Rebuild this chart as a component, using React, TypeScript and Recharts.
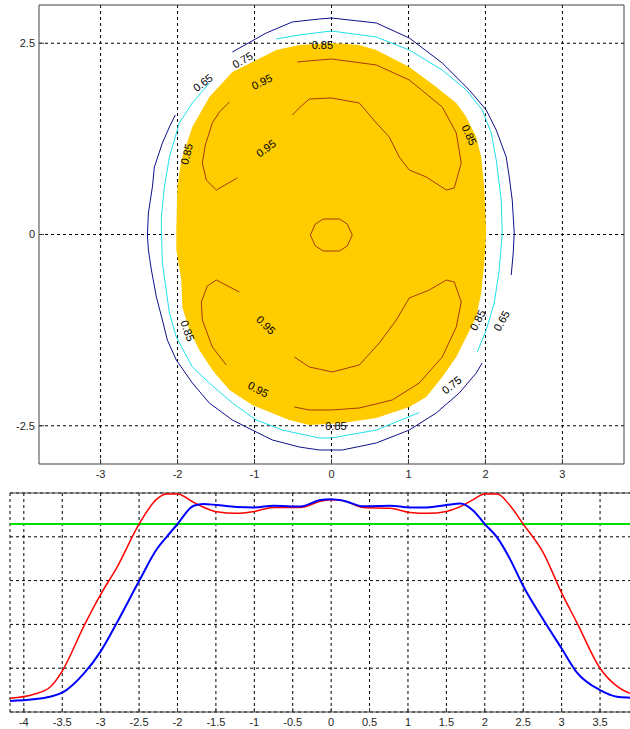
import {
  ScatterChart,
  Scatter,
  LineChart,
  Line,
  XAxis,
  YAxis,
  CartesianGrid,
  ReferenceLine,
} from 'recharts';

// ---- top panel: contour map ----
const topXTicks = [-3, -2, -1, 0, 1, 2, 3];
const topYTicks = [-2.5, 0, 2.5];
const topXDomain = [-3.8, 3.8];
const topYDomain = [-3, 3];

// region above 0.85 (filled)
const level085Region = [
  { x: -0.717, y: 2.412 }, { x: -0.418, y: 2.477 }, { x: 0.0, y: 2.503 }, { x: 0.361, y: 2.477 },
  { x: 0.582, y: 2.412 }, { x: 1.01, y: 2.19 }, { x: 1.361, y: 1.928 }, { x: 1.621, y: 1.719 },
  { x: 1.751, y: 1.536 }, { x: 1.881, y: 1.275 }, { x: 1.945, y: 1.013 }, { x: 1.984, y: 0.621 },
  { x: 2.01, y: 0.02 }, { x: 1.984, y: -0.373 }, { x: 1.945, y: -0.765 }, { x: 1.881, y: -1.078 },
  { x: 1.751, y: -1.34 }, { x: 1.621, y: -1.601 }, { x: 1.439, y: -1.863 }, { x: 1.231, y: -2.124 },
  { x: 1.01, y: -2.255 }, { x: 0.582, y: -2.399 }, { x: 0.14, y: -2.464 }, { x: -0.288, y: -2.49 },
  { x: -0.548, y: -2.425 }, { x: -1.029, y: -2.229 }, { x: -1.327, y: -2.033 }, { x: -1.548, y: -1.771 },
  { x: -1.717, y: -1.51 }, { x: -1.847, y: -1.248 }, { x: -1.938, y: -0.948 }, { x: -1.951, y: -0.595 },
  { x: -2.016, y: -0.203 }, { x: -2.016, y: 0.059 }, { x: -2.003, y: 0.621 }, { x: -1.951, y: 0.974 },
  { x: -1.808, y: 1.405 }, { x: -1.587, y: 1.797 }, { x: -1.288, y: 2.124 },
];

const level065A = [
  { x: -1.288, y: 2.386 }, { x: -0.847, y: 2.634 }, { x: -0.509, y: 2.778 }, { x: -0.158, y: 2.817 },
  { x: 0.0, y: 2.83 }, { x: 0.582, y: 2.765 }, { x: 1.01, y: 2.569 }, { x: 1.439, y: 2.242 },
  { x: 1.79, y: 1.889 }, { x: 2.01, y: 1.627 }, { x: 2.14, y: 1.366 }, { x: 2.27, y: 1.013 },
  { x: 2.309, y: 0.752 }, { x: 2.348, y: 0.451 }, { x: 2.374, y: 0.02 }, { x: 2.361, y: -0.242 },
  { x: 2.335, y: -0.529 },
];
const level065B = [
  { x: 1.958, y: -1.68 }, { x: 1.881, y: -1.81 }, { x: 1.66, y: -2.072 }, { x: 1.361, y: -2.333 },
  { x: 1.01, y: -2.556 }, { x: 0.582, y: -2.725 }, { x: 0.14, y: -2.817 }, { x: -0.158, y: -2.817 },
  { x: -0.418, y: -2.778 }, { x: -0.769, y: -2.686 }, { x: -1.029, y: -2.556 }, { x: -1.288, y: -2.425 },
  { x: -1.587, y: -2.203 }, { x: -1.808, y: -1.941 }, { x: -2.016, y: -1.641 }, { x: -2.133, y: -1.379 },
  { x: -2.197, y: -1.118 }, { x: -2.275, y: -0.817 }, { x: -2.34, y: -0.464 }, { x: -2.379, y: -0.203 },
  { x: -2.392, y: -0.007 }, { x: -2.379, y: 0.281 }, { x: -2.327, y: 0.621 }, { x: -2.301, y: 0.882 },
  { x: -2.197, y: 1.196 }, { x: -2.106, y: 1.405 }, { x: -2.029, y: 1.562 },
];

const level075A = [
  { x: -0.717, y: 2.556 }, { x: -0.418, y: 2.608 }, { x: -0.158, y: 2.641 }, { x: 0.0, y: 2.66 },
  { x: 0.582, y: 2.582 }, { x: 1.01, y: 2.412 }, { x: 1.439, y: 2.15 }, { x: 1.751, y: 1.889 },
  { x: 1.958, y: 1.627 }, { x: 2.075, y: 1.327 }, { x: 2.14, y: 0.974 }, { x: 2.205, y: 0.451 },
  { x: 2.218, y: 0.02 }, { x: 2.179, y: -0.464 }, { x: 2.114, y: -0.895 }, { x: 2.01, y: -1.248 },
  { x: 1.894, y: -1.536 },
];
const level075B = [
  { x: 1.14, y: -2.327 }, { x: 0.582, y: -2.556 }, { x: 0.0, y: -2.66 }, { x: -0.158, y: -2.66 },
  { x: -0.639, y: -2.556 }, { x: -0.977, y: -2.425 }, { x: -1.288, y: -2.203 }, { x: -1.587, y: -1.941 },
  { x: -1.808, y: -1.732 }, { x: -2.016, y: -1.34 }, { x: -2.106, y: -1.026 }, { x: -2.197, y: -0.373 },
  { x: -2.21, y: 0.059 }, { x: -2.21, y: 0.229 }, { x: -2.171, y: 0.621 }, { x: -2.106, y: 1.013 },
  { x: -1.977, y: 1.458 }, { x: -1.808, y: 1.719 }, { x: -1.587, y: 1.98 },
];

const level095Top = [
  { x: -0.444, y: 2.255 }, { x: -0.158, y: 2.281 }, { x: 0.0, y: 2.294 }, { x: 0.582, y: 2.216 },
  { x: 1.01, y: 2.02 }, { x: 1.439, y: 1.667 }, { x: 1.621, y: 1.327 }, { x: 1.686, y: 0.935 },
  { x: 1.595, y: 0.608 }, { x: 1.491, y: 0.582 }, { x: 1.231, y: 0.752 }, { x: 1.01, y: 0.843 },
  { x: 0.88, y: 1.013 }, { x: 0.75, y: 1.275 }, { x: 0.582, y: 1.458 }, { x: 0.361, y: 1.719 },
  { x: 0.0, y: 1.784 }, { x: -0.288, y: 1.771 }, { x: -0.392, y: 1.68 }, { x: -0.509, y: 1.562 },
];
const level095LeftUpper = [
  { x: -1.327, y: 1.732 }, { x: -1.457, y: 1.601 }, { x: -1.548, y: 1.458 }, { x: -1.639, y: 1.17 },
  { x: -1.678, y: 0.935 }, { x: -1.626, y: 0.712 }, { x: -1.496, y: 0.582 }, { x: -1.223, y: 0.739 },
];
const level095LeftLower = [
  { x: -1.197, y: -0.752 }, { x: -1.496, y: -0.595 }, { x: -1.613, y: -0.673 }, { x: -1.691, y: -0.882 },
  { x: -1.678, y: -1.118 }, { x: -1.548, y: -1.471 }, { x: -1.366, y: -1.706 },
];
const level095Bottom = [
  { x: -0.483, y: -1.601 }, { x: -0.288, y: -1.732 }, { x: 0.01, y: -1.797 }, { x: 0.361, y: -1.706 },
  { x: 0.621, y: -1.418 }, { x: 0.842, y: -1.118 }, { x: 1.01, y: -0.83 }, { x: 1.27, y: -0.726 },
  { x: 1.491, y: -0.595 }, { x: 1.595, y: -0.621 }, { x: 1.686, y: -0.882 }, { x: 1.621, y: -1.209 },
  { x: 1.439, y: -1.601 }, { x: 1.14, y: -1.941 }, { x: 0.79, y: -2.163 }, { x: 0.361, y: -2.268 },
  { x: 0.0, y: -2.294 }, { x: -0.288, y: -2.294 }, { x: -0.483, y: -2.255 },
];
const level095Center = [
  { x: -0.275, y: -0.007 }, { x: -0.21, y: 0.137 }, { x: -0.106, y: 0.203 }, { x: 0.101, y: 0.203 },
  { x: 0.205, y: 0.137 }, { x: 0.27, y: -0.007 }, { x: 0.205, y: -0.15 }, { x: 0.101, y: -0.216 },
  { x: -0.106, y: -0.216 }, { x: -0.21, y: -0.15 }, { x: -0.275, y: -0.007 },
];

const contourLabels = [
  { x: -1.672, y: 1.984, text: '0.65' },
  { x: -1.155, y: 2.281, text: '0.75' },
  { x: -0.119, y: 2.477, text: '0.85' },
  { x: -0.903, y: 1.997, text: '0.95' },
  { x: -1.882, y: 1.052, text: '0.85' },
  { x: -0.851, y: 1.127, text: '0.95' },
  { x: 1.79, y: 1.301, text: '0.85' },
  { x: -1.869, y: -1.258, text: '0.85' },
  { x: -0.851, y: -1.183, text: '0.95' },
  { x: -0.951, y: -2.024, text: '0.95' },
  { x: 0.058, y: -2.503, text: '0.85' },
  { x: 1.56, y: -1.967, text: '0.75' },
  { x: 1.897, y: -1.118, text: '0.85' },
  { x: 2.209, y: -1.127, text: '0.65' },
];
const labelAngles = [-37, -30, 0, -26, -77, -36, 65, 70, 45, 28, 0, -39, -63, -61];

// ---- bottom panel: profiles ----
const profileX = [
  -4.18, -3.88, -3.66, -3.5, -3.22, -3.0, -2.79, -2.5, -2.27, -2.14, -2.0, -1.79, -1.66, -1.49, -1.23,
  -1.0, -0.75, -0.4, -0.14, 0, 0.16, 0.42, 0.77, 1.03, 1.25, 1.5, 1.68, 1.85, 2.0, 2.16, 2.33, 2.5,
  2.76, 3.0, 3.2, 3.5, 3.72, 3.89, 4.02,
];
const redProfile = [
  0.063, 0.08, 0.113, 0.187, 0.391, 0.537, 0.659, 0.858, 0.972, 0.995, 0.995, 0.957, 0.935, 0.914, 0.907,
  0.916, 0.934, 0.934, 0.962, 0.969, 0.965, 0.934, 0.93, 0.911, 0.907, 0.916, 0.938, 0.97, 0.995, 0.995,
  0.942, 0.858, 0.728, 0.544, 0.407, 0.2, 0.118, 0.086, 0.08,
];
const blueProfile = [
  0.05, 0.058, 0.07, 0.088, 0.175, 0.277, 0.407, 0.598, 0.743, 0.8, 0.858, 0.942, 0.95, 0.945, 0.936,
  0.934, 0.942, 0.938, 0.968, 0.972, 0.965, 0.939, 0.942, 0.934, 0.934, 0.945, 0.952, 0.919, 0.858,
  0.797, 0.697, 0.575, 0.422, 0.29, 0.18, 0.1, 0.07, 0.065, 0.063,
];
const threshold = 0.858;
const bottomXTicks = [-4, -3.5, -3, -2.5, -2, -1.5, -1, -0.5, 0, 0.5, 1, 1.5, 2, 2.5, 3, 3.5];
const bottomYTicks = [0, 0.2, 0.4, 0.6, 0.8, 1];
const bottomXDomain = [-4.18, 4.02];
const bottomYDomain = [0, 1];

const profileData = profileX.map((x, i) => ({ x, red: redProfile[i], blue: blueProfile[i] }));
const labelData = contourLabels.map((l, i) => ({ ...l, angle: labelAngles[i] }));

const font = '"Liberation Sans", Arial, sans-serif';
const tickStyle = { fontSize: 11, fill: '#262626', fontFamily: font };
const frame = '#404040';

const NoDot = () => <g />;

function ContourLabel(props: any) {
  const { cx, cy, payload } = props;
  return (
    <text
      x={cx}
      y={cy}
      transform={`rotate(${payload.angle}, ${cx}, ${cy})`}
      textAnchor="middle"
      dominantBaseline="central"
      fontSize={11}
      fontFamily={font}
      fill="#000"
    >
      {payload.text}
    </text>
  );
}

const contourLines = [
  { data: level065A, color: '#10108a' },
  { data: level065B, color: '#10108a' },
  { data: level075A, color: '#1ee0ee' },
  { data: level075B, color: '#1ee0ee' },
  { data: level095Top, color: '#a33c0c' },
  { data: level095LeftUpper, color: '#a33c0c' },
  { data: level095LeftLower, color: '#a33c0c' },
  { data: level095Bottom, color: '#a33c0c' },
  { data: level095Center, color: '#a33c0c' },
];

function ContourPanel() {
  return (
    <ScatterChart width={630} height={490} margin={{ top: 5, right: 6, bottom: 0, left: 0 }}>
      <XAxis
        type="number"
        dataKey="x"
        domain={topXDomain}
        ticks={topXTicks}
        interval={0}
        allowDataOverflow
        height={26}
        tickSize={-5}
        tickMargin={11}
        stroke={frame}
        tick={tickStyle}
      />
      <YAxis
        type="number"
        dataKey="y"
        domain={topYDomain}
        ticks={topYTicks}
        interval={0}
        allowDataOverflow
        width={39}
        tickSize={-5}
        tickMargin={9}
        stroke={frame}
        tick={tickStyle}
      />
      <Scatter
        data={level085Region}
        line={{ fill: '#ffcc00', stroke: 'none' }}
        shape={NoDot}
        isAnimationActive={false}
      />
      {topXTicks.map((t) => (
        <ReferenceLine key={`gx${t}`} x={t} stroke="#000" strokeDasharray="3 3" />
      ))}
      {topYTicks.map((t) => (
        <ReferenceLine key={`gy${t}`} y={t} stroke="#000" strokeDasharray="3 3" />
      ))}
      {/* box: top and right edges */}
      <ReferenceLine y={topYDomain[1]} stroke={frame} />
      <ReferenceLine x={topXDomain[1]} stroke={frame} />
      {contourLines.map((c, i) => (
        <Scatter
          key={i}
          data={c.data}
          line={{ stroke: c.color, strokeWidth: 1 }}
          shape={NoDot}
          isAnimationActive={false}
        />
      ))}
      <Scatter data={labelData} shape={ContourLabel} isAnimationActive={false} />
    </ScatterChart>
  );
}

function ProfilePanel() {
  return (
    <LineChart width={640} height={239} data={profileData} margin={{ top: 3, right: 0, bottom: 0, left: 10 }}>
      <CartesianGrid stroke="#000" strokeDasharray="3 3" />
      <XAxis
        type="number"
        dataKey="x"
        domain={bottomXDomain}
        ticks={bottomXTicks}
        interval={0}
        allowDataOverflow
        height={17}
        tickSize={-4}
        tickMargin={10}
        stroke={frame}
        tick={tickStyle}
      />
      <YAxis hide type="number" domain={bottomYDomain} ticks={bottomYTicks} interval={0} />
      <ReferenceLine y={bottomYDomain[1]} stroke={frame} />
      <ReferenceLine y={threshold} stroke="#00e000" strokeWidth={2} />
      <Line type="monotone" dataKey="red" stroke="#ff0000" strokeWidth={1.5} dot={false} isAnimationActive={false} />
      <Line type="monotone" dataKey="blue" stroke="#0000ff" strokeWidth={2} dot={false} isAnimationActive={false} />
    </LineChart>
  );
}

export default function App() {
  return (
    <div
      style={{
        position: 'absolute',
        left: 0,
        top: 0,
        width: 630,
        height: 729,
        overflow: 'hidden',
        background: '#fff',
        fontFamily: font,
      }}
    >
      <ContourPanel />
      <ProfilePanel />
    </div>
  );
}
